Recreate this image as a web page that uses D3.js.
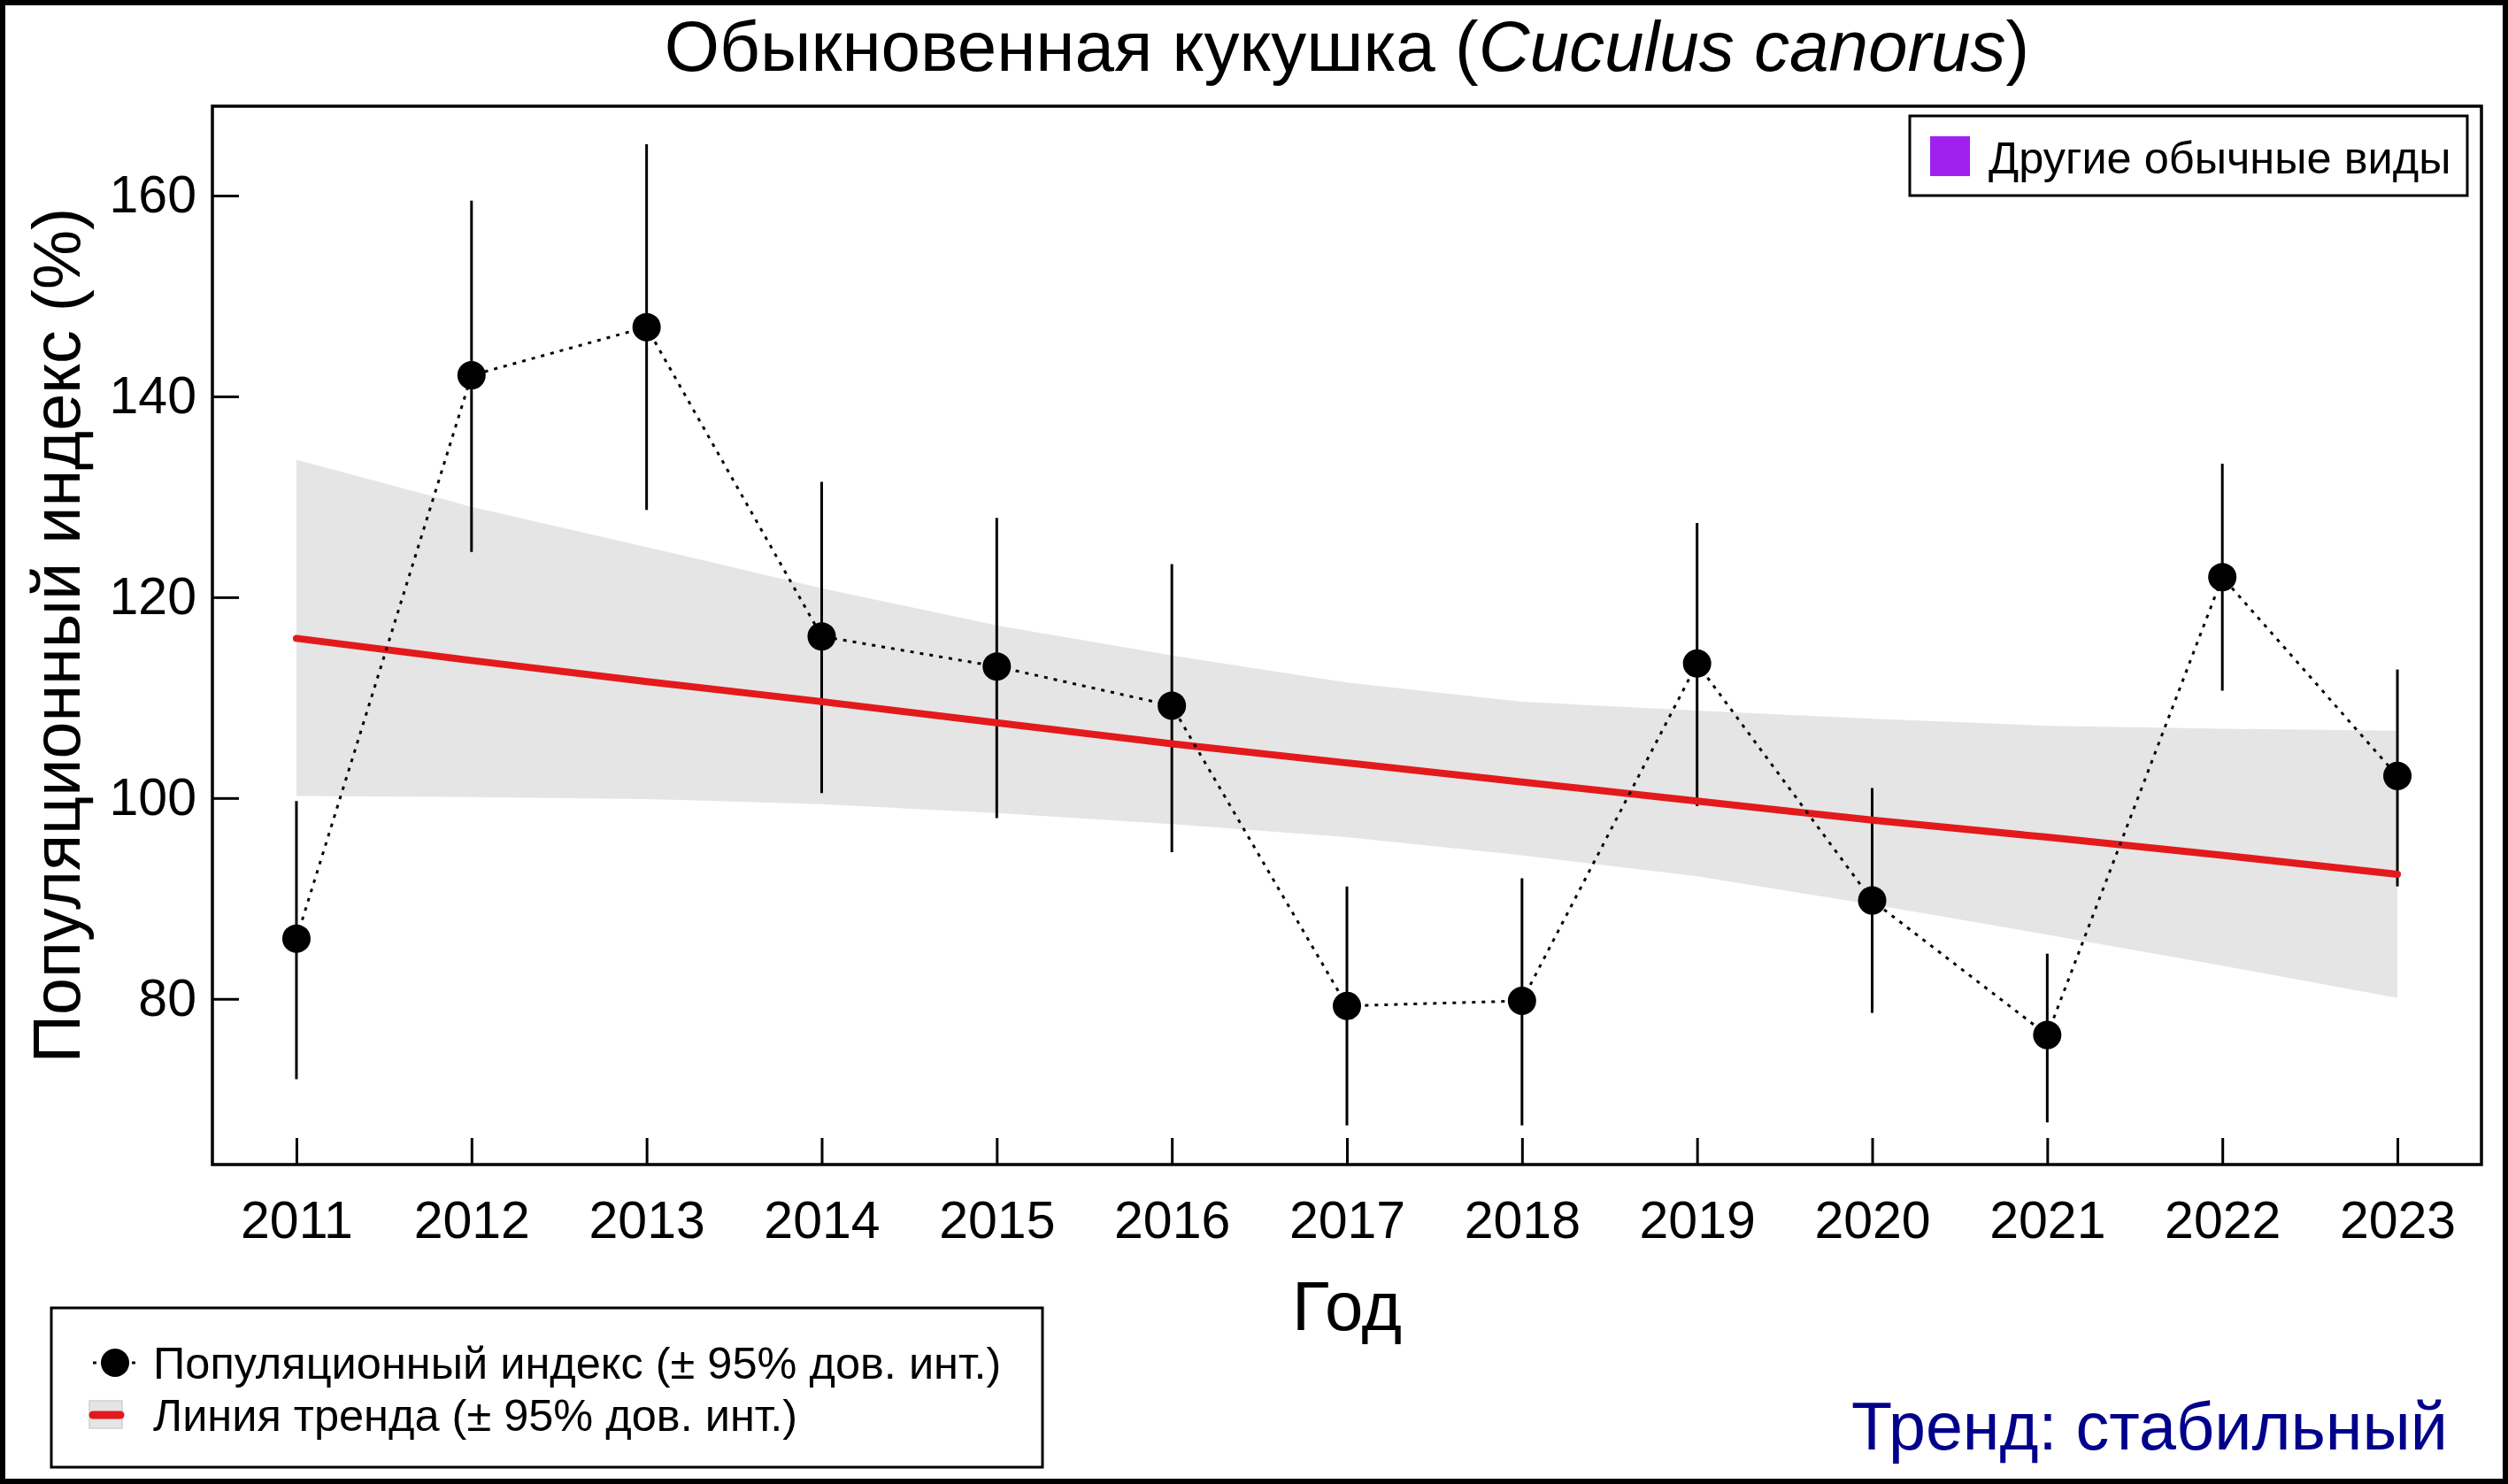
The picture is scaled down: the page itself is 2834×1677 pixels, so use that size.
<!DOCTYPE html>
<html>
<head>
<meta charset="utf-8">
<script src="https://cdn.jsdelivr.net/npm/d3@7"></script>
<style>
  html, body { margin: 0; padding: 0; background: #fff; }
  svg { display: block; }
  text { font-family: "Liberation Sans", Arial, sans-serif; }
</style>
</head>
<body>
<script>
// ---- data ----
const years = [2011, 2012, 2013, 2014, 2015, 2016, 2017, 2018, 2019, 2020, 2021, 2022, 2023];
const indexValues = [86.0, 142.1, 146.9, 116.1, 113.1, 109.2, 79.3, 79.8, 113.4, 89.8, 76.4, 122.0, 102.2];
const ciLow  = [72.0, 124.5, 128.7, 100.5, 98.0, 94.6, 67.4, 67.4, 99.2, 78.6, 67.7, 110.7, 91.2];
const ciHigh = [99.7, 159.5, 165.1, 131.5, 127.9, 123.3, 91.2, 92.0, 127.4, 101.0, 84.5, 133.3, 112.8];
const trendValues = [115.9, 113.7, 111.6, 109.6, 107.5, 105.4, 103.5, 101.6, 99.7, 97.8, 96.1, 94.3, 92.4];
const trendLow  = [100.2, 100.1, 99.9, 99.4, 98.5, 97.4, 96.1, 94.3, 92.2, 89.4, 86.4, 83.3, 80.1];
const trendHigh = [133.7, 129.0, 125.0, 120.9, 117.2, 114.2, 111.5, 109.6, 108.7, 107.9, 107.2, 106.9, 106.7];
const yTicks = [80, 100, 120, 140, 160];
const xTicks = years;

const titleMain = "Обыкновенная кукушка (";
const titleLatin = "Cuculus canorus";
const titleEnd = ")";
const yLabel = "Популяционный индекс (%)";
const xLabel = "Год";
const groupLegend = "Другие обычные виды";
const legendIndex = "Популяционный индекс (± 95% дов. инт.)";
const legendTrend = "Линия тренда (± 95% дов. инт.)";
const trendText = "Тренд: стабильный";

// ---- layout ----
const W = 2834, H = 1677;
const L = 240, R = 2804, T = 120, B = 1316;

const svg = d3.select("body").append("svg").attr("width", W).attr("height", H);
svg.append("rect").attr("x", 0).attr("y", 0).attr("width", W).attr("height", H).attr("fill", "#fff");

const x = d3.scaleLinear().domain([2010.52, 2023.48]).range([L, R]);
const y = d3.scaleLinear().domain([63.5, 168.9]).range([B, T]);

const rows = years.map((yr, i) => ({
  yr, v: indexValues[i], lo: ciLow[i], hi: ciHigh[i],
  t: trendValues[i], tl: trendLow[i], th: trendHigh[i]
}));

// band
svg.append("path").datum(rows)
  .attr("d", d3.area().x(d => x(d.yr)).y0(d => y(d.tl)).y1(d => y(d.th)))
  .attr("fill", "#e5e5e5");

// error bars
svg.append("g").selectAll("line").data(rows).join("line")
  .attr("x1", d => x(d.yr)).attr("x2", d => x(d.yr))
  .attr("y1", d => y(d.lo)).attr("y2", d => y(d.hi))
  .attr("stroke", "#000").attr("stroke-width", 3);

// trend line
svg.append("path").datum(rows)
  .attr("d", d3.line().x(d => x(d.yr)).y(d => y(d.t)))
  .attr("fill", "none").attr("stroke", "#e31a1c").attr("stroke-width", 8)
  .attr("stroke-linecap", "round");

// dotted connecting line
svg.append("path").datum(rows)
  .attr("d", d3.line().x(d => x(d.yr)).y(d => y(d.v)))
  .attr("fill", "none").attr("stroke", "#000").attr("stroke-width", 3)
  .attr("stroke-dasharray", "4 7");

// points
svg.append("g").selectAll("circle").data(rows).join("circle")
  .attr("cx", d => x(d.yr)).attr("cy", d => y(d.v)).attr("r", 16)
  .attr("fill", "#000");

// axes
const yAxis = d3.axisLeft(y).tickValues(yTicks).tickSizeInner(-30).tickSizeOuter(0).tickPadding(18);
const gy = svg.append("g").attr("transform", `translate(${L},0)`).call(yAxis);
gy.select(".domain").remove();
gy.selectAll(".tick line").attr("stroke", "#000").attr("stroke-width", 3);
gy.selectAll(".tick text").attr("font-size", 59).attr("fill", "#000")
  .attr("font-family", "'Liberation Sans', Arial, sans-serif");

const xAxis = d3.axisBottom(x).tickValues(xTicks).tickFormat(d3.format("d")).tickSizeInner(-30).tickSizeOuter(0).tickPadding(41);
const gx = svg.append("g").attr("transform", `translate(0,${B})`).call(xAxis);
gx.select(".domain").remove();
gx.selectAll(".tick line").attr("stroke", "#000").attr("stroke-width", 3);
gx.selectAll(".tick text").attr("font-size", 59).attr("fill", "#000")
  .attr("font-family", "'Liberation Sans', Arial, sans-serif");

// plot frame
svg.append("rect").attr("x", L).attr("y", T).attr("width", R - L).attr("height", B - T)
  .attr("fill", "none").attr("stroke", "#000").attr("stroke-width", 3.5);

// title
const title = svg.append("text").attr("x", (L + R) / 2).attr("y", 80)
  .attr("text-anchor", "middle").attr("font-size", 80).attr("fill", "#000");
title.append("tspan").text(titleMain);
title.append("tspan").attr("font-style", "italic").text(titleLatin);
title.append("tspan").text(titleEnd);

// axis labels
svg.append("text").attr("transform", `translate(90,${(T + B) / 2}) rotate(-90)`)
  .attr("text-anchor", "middle").attr("font-size", 75.5).attr("fill", "#000").text(yLabel);
svg.append("text").attr("x", (L + R) / 2).attr("y", 1503)
  .attr("text-anchor", "middle").attr("font-size", 78).attr("fill", "#000").text(xLabel);

// top-right legend
svg.append("rect").attr("x", 2158).attr("y", 131).attr("width", 630).attr("height", 90)
  .attr("fill", "#fff").attr("stroke", "#000").attr("stroke-width", 3);
svg.append("rect").attr("x", 2181).attr("y", 154).attr("width", 45).attr("height", 45).attr("fill", "#a020f0");
svg.append("text").attr("x", 2247).attr("y", 196).attr("font-size", 50.5).attr("fill", "#000").text(groupLegend);

// bottom-left legend
svg.append("rect").attr("x", 58).attr("y", 1478).attr("width", 1120).attr("height", 180)
  .attr("fill", "#fff").attr("stroke", "#000").attr("stroke-width", 3);
svg.append("line").attr("x1", 105).attr("x2", 158).attr("y1", 1540).attr("y2", 1540)
  .attr("stroke", "#000").attr("stroke-width", 3).attr("stroke-dasharray", "4 7");
svg.append("circle").attr("cx", 130).attr("cy", 1540).attr("r", 16).attr("fill", "#000");
svg.append("text").attr("x", 173).attr("y", 1558).attr("font-size", 50.5).attr("fill", "#000").text(legendIndex);
svg.append("rect").attr("x", 101).attr("y", 1583).attr("width", 37).attr("height", 31)
  .attr("fill", "#e5e5e5").attr("stroke", "#cfcfcf").attr("stroke-width", 1.5);
svg.append("line").attr("x1", 105).attr("x2", 136).attr("y1", 1599).attr("y2", 1599)
  .attr("stroke", "#e31a1c").attr("stroke-width", 9).attr("stroke-linecap", "round");
svg.append("text").attr("x", 173).attr("y", 1617).attr("font-size", 50.5).attr("fill", "#000").text(legendTrend);

// trend text
svg.append("text").attr("x", 2766).attr("y", 1638).attr("text-anchor", "end")
  .attr("font-size", 75.5).attr("fill", "#00008b").text(trendText);

// outer border
svg.append("rect").attr("x", 3).attr("y", 3).attr("width", W - 6).attr("height", H - 6)
  .attr("fill", "none").attr("stroke", "#000").attr("stroke-width", 6);
</script>
</body>
</html>
